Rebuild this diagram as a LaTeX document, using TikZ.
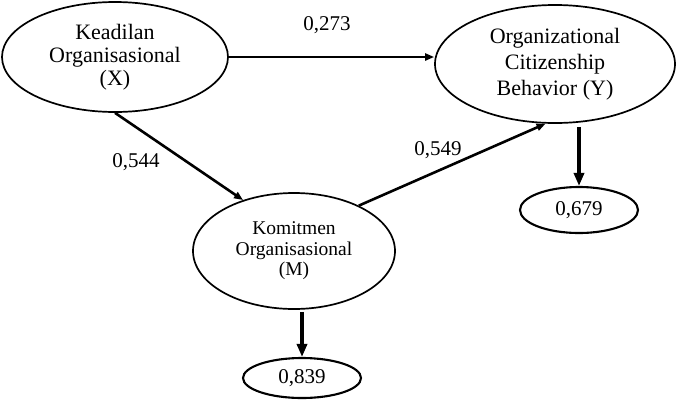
\documentclass[tikz,border=0pt]{standalone}
\usepackage{fontspec}
\setmainfont{Liberation Serif}
\usetikzlibrary{shapes.geometric, arrows.meta}

\begin{document}
\begin{tikzpicture}[x = 1pt, y = -1pt,
    var/.style = {ellipse, draw, line width = 1.7pt, inner sep = 0pt, align = center},
    res/.style = {ellipse, draw, line width = 2.1pt, inner sep = 0pt, font = \fontsize{21}{23}\selectfont},
    effect/.style = {line width = 2.6pt, -{Triangle[length = 9pt, width = 7pt]}},
    resid/.style = {line width = 4pt, -{Triangle[length = 13pt, width = 10pt]}},
    coef/.style = {font = \fontsize{21}{23}\selectfont}]
        \useasboundingbox (0,0) rectangle (677,400);
        % latent variables
        \node[var, minimum width = 226pt, minimum height = 110pt, font = \fontsize{22}{23}\selectfont] (X) at (115,57) {Keadilan\\Organisasional\\(X)};
        \node[var, minimum width = 240pt, minimum height = 118pt, font = \fontsize{22}{26}\selectfont] (Y) at (555,64) {Organizational\\Citizenship\\Behavior (Y)};
        \node[var, minimum width = 202pt, minimum height = 116pt, font = \fontsize{19.5}{20.5}\selectfont] (M) at (294,251) {Komitmen\\Organisasional\\(M)};
        % r-square
        \node[res, minimum width = 118pt, minimum height = 40pt] (rM) at (302,378) {0,839};
        \node[res, minimum width = 118pt, minimum height = 46pt] (rY) at (579,210) {0,679};
        % paths
        \draw[effect] (X.east) -- (X.east -| Y.west);
        \draw[effect] (X.south) -- (M.135);
        \draw[effect] (M.35) -- (Y.261);
        \draw[resid, shorten < = 3pt] (rY.north |- Y.south) -- (rY.north);
        \draw[resid, shorten < = 2pt] (rM.north |- M.south) -- (rM.north);
        \node[coef] (pXY) at (327,25) {0,273};
        \node[coef] (pXM) at (136,162) {0,544};
        \node[coef] (pMY) at (438,150) {0,549};
      \end{tikzpicture}
\end{document}
